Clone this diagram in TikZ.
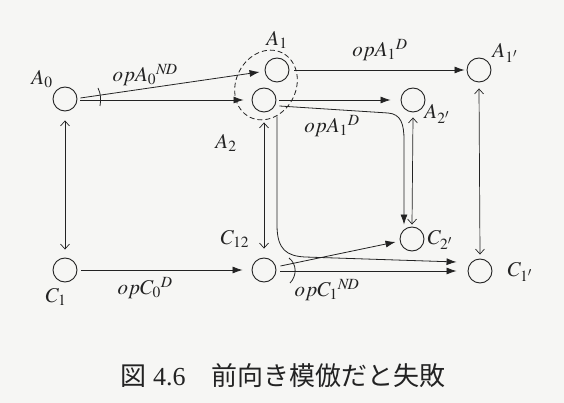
\documentclass[tikz,border=0pt]{standalone}
\usepackage{mathptmx}
\usepackage[no-math]{fontspec}
\setmainfont{Liberation Serif}
\newfontfamily\cjk{Noto Sans CJK JP}
\usetikzlibrary{arrows.meta,calc}
\definecolor{bg}{RGB}{246,246,244}
\definecolor{ink}{RGB}{35,35,35}
\begin{document}
\begin{tikzpicture}[x=1pt,y=-1pt,
  st/.style={circle,draw=ink,line width=0.9pt,minimum size=24pt,inner sep=0pt},
  lbl/.style={font=\fontsize{21}{24}\selectfont,text=ink,inner sep=0pt},
  fa/.style={draw=ink,-{Latex[length=10pt,width=7pt]},line width=0.8pt},
  da/.style={draw=ink,{Straight Barb[length=5pt,width=9pt]}-{Straight Barb[length=5pt,width=9pt]},line width=0.7pt},
  tick/.style={draw=ink,line width=0.8pt}]
\fill[bg] (0,0) rectangle (564,403);
\useasboundingbox (0,0) rectangle (564,403);
% states
\node[st] (A0)  at (65,99)  {};
\node[st] (A1)  at (277,70) {};
\node[st] (A2)  at (264,100) {};
\node[st] (A2p) at (413,100) {};
\node[st] (A1p) at (479,70) {};
\node[st] (C1)  at (65,270) {};
\node[st] (C12) at (264,270) {};
\node[st] (C2p) at (412,239) {};
\node[st] (C1p) at (480,271) {};
% dashed group
\draw[ink,line width=0.8pt,dash pattern=on 5pt off 3pt,rotate around={63:(266,85)}] (266,85) ellipse [x radius=36pt,y radius=30pt];
% labels
\node[lbl] (lA0)  at (42,79)   {$A_0$};
\node[lbl] (lA1)  at (277,40)  {$A_1$};
\node[lbl] (lA2)  at (226,143) {$A_2$};
\node[lbl] (lA2p) at (437,114) {$A_{2'}$};
\node[lbl] (lA1p) at (505,53)  {$A_{1'}$};
\node[lbl] (lC1)  at (56,297)  {$C_1$};
\node[lbl] (lC12) at (235,239) {$C_{12}$};
\node[lbl] (lC2p) at (440,240) {$C_{2'}$};
\node[lbl] (lC1p) at (520,272) {$C_{1'}$};
\node[lbl] (oA0)  at (145,75)  {$opA_0{}^{N\!D}$};
\node[lbl] (oA1a) at (380,50)  {$opA_1{}^{D}$};
\node[lbl] (oA1b) at (332,126) {$opA_1{}^{D}$};
\node[lbl] (oC0)  at (145,288) {$opC_0{}^{D}$};
\node[lbl] (oC1)  at (327,290) {$opC_1{}^{N\!D}$};
% transitions
\draw[fa] ($(A0.east)+(3,-1)$) -- ($(A1.west)+(-5,2)$);
\draw[fa] ($(A0.east)+(3,1)$) -- ($(A2.west)+(-8,0)$);
\draw[fa] ($(A1.east)+(5,0)$) -- ($(A1p.west)+(-2,0)$);
\draw[fa] ($(A2.east)+(3,0)$) -- ($(A2p.west)+(-10,0)$);
\draw[fa] ($(A2.east)+(3,6)$) -- (388,113) .. controls (401,114) and (404,124) .. (404,140) -- ($(C2p.north)+(-8,-2)$);
\draw[fa] ($(A2.south)+(13,4)$) -- (277,225) .. controls (277,250) and (287,256) .. (305,257) -- ($(C1p.west)+(-11,-9)$);
\draw[fa] ($(C1.east)+(4,0)$) -- ($(C12.west)+(-9,0)$);
\draw[fa] ($(C12.east)+(4,-4)$) -- ($(C2p.west)+(-4,3)$);
\draw[fa] ($(C12.east)+(4,1)$) -- ($(C1p.west)+(-11,0)$);
% simulation relations
\draw[da] ($(A0.south)+(0,9)$) -- ($(C1.north)+(0,-8)$);
\draw[da] ($(A2.south)+(0,10)$) -- ($(C12.north)+(0,-9)$);
\draw[da] ($(A1p.south)+(0,6)$) -- ($(C1p.north)+(0,-4)$);
\draw[da] ($(A2p.south)+(0,5)$) -- ($(C2p.north)+(0,-2)$);
% ticks
\draw[tick] (98,88) .. controls (101,94) and (101,100) .. (100,106);
\draw[tick] (289,258) .. controls (297,264) and (297,276) .. (290,283);
% caption
\node[font=\fontsize{26}{30}\selectfont,text=ink,inner sep=0pt] (cap) at (283,376) {{\cjk 図} 4.6\hspace{1em}{\cjk 前向き模倣だと失敗}};
\end{tikzpicture}
\end{document}
